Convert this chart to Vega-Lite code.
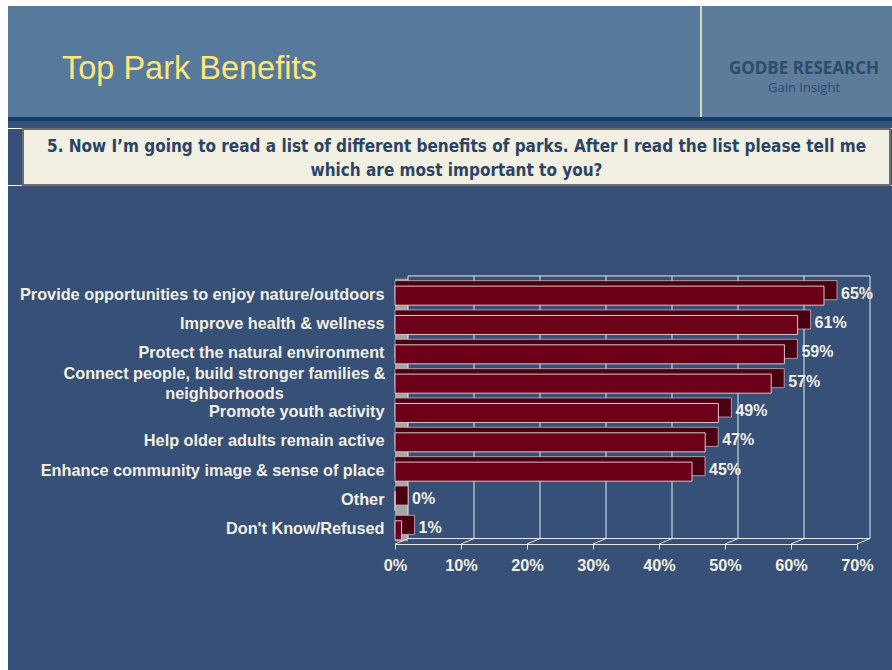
{
  "$schema": "https://vega.github.io/schema/vega-lite/v6.json",
  "background": "#ffffff",
  "padding": {"left": 8, "top": 6, "right": 0, "bottom": 0},
  "spacing": 0,
  "config": {
    "view": {"stroke": null},
    "concat": {"spacing": 0},
    "axis": {"labelFont": "Liberation Sans", "labelFontSize": 16.3, "labelFontWeight": "bold", "labelColor": "#f2efe2", "domainColor": "#e6e6e6", "tickColor": "#e6e6e6", "grid": false}
  },
  "datasets": {
    "benefits": [
      {"benefit": "Provide opportunities to enjoy nature/outdoors", "pct": 65, "label": "65%"},
      {"benefit": "Improve health & wellness", "pct": 61, "label": "61%"},
      {"benefit": "Protect the natural environment", "pct": 59, "label": "59%"},
      {"benefit": "Connect people, build stronger families & neighborhoods", "pct": 57, "label": "57%"},
      {"benefit": "Promote youth activity", "pct": 49, "label": "49%"},
      {"benefit": "Help older adults remain active", "pct": 47, "label": "47%"},
      {"benefit": "Enhance community image & sense of place", "pct": 45, "label": "45%"},
      {"benefit": "Other", "pct": 0, "label": "0%"},
      {"benefit": "Don't Know/Refused", "pct": 1, "label": "1%"}
    ],
    "ticks": [{"t": 0}, {"t": 10}, {"t": 20}, {"t": 30}, {"t": 40}, {"t": 50}, {"t": 60}, {"t": 70}],
    "none": []
  },
  "vconcat": [
    {
      "spacing": 0,
      "hconcat": [
        {
          "width": 692, "height": 111,
          "view": {"fill": "#57799c", "stroke": null},
          "title": {"text": "Top Park Benefits", "anchor": "start", "frame": "group", "orient": "top", "offset": -105, "dx": 54, "baseline": "alphabetic", "font": "Liberation Sans", "fontSize": 32.5, "fontWeight": "normal", "color": "#fde67a"},
          "data": {"name": "none"},
          "mark": "rect"
        },
        {
          "width": 2, "height": 111,
          "view": {"fill": "#dcd8b4", "stroke": null},
          "data": {"name": "none"},
          "mark": "rect"
        },
        {
          "width": 190, "height": 111,
          "view": {"fill": "#5d7b9b", "stroke": null},
          "title": {"text": "GODBE RESEARCH", "subtitle": "Gain Insight", "anchor": "middle", "frame": "group", "orient": "top", "offset": -103, "dx": 7, "baseline": "alphabetic", "font": "Open Sans", "fontSize": 17, "fontWeight": "bold", "color": "#2c4b6c", "subtitleFont": "Open Sans", "subtitleFontSize": 13, "subtitleColor": "#2c4b6c", "subtitlePadding": 1},
          "data": {"name": "none"},
          "mark": "rect"
        }
      ]
    },
    {
      "width": 884, "height": 4,
      "view": {"fill": "#123f66", "stroke": null},
      "data": {"name": "none"},
      "mark": "rect"
    },
    {
      "width": 884, "height": 7,
      "view": {"fill": "#365078", "stroke": null},
      "data": {"name": "none"},
      "mark": "rect"
    },
    {
      "spacing": 0,
      "hconcat": [
        {
          "width": 14, "height": 56,
          "view": {"fill": "#365078", "stroke": null},
          "data": {"name": "none"},
          "mark": "rect"
        },
        {
          "width": 867, "height": 56,
          "view": {"fill": "#f2f0e3", "stroke": "#6e6e6e", "strokeWidth": 2},
          "title": {"text": ["5. Now I’m going to read a list of different benefits of parks. After I read the list please tell me", "which are most important to you?"], "anchor": "middle", "frame": "group", "orient": "top", "offset": -64, "baseline": "alphabetic", "lineHeight": 24, "font": "DejaVu Sans Condensed, Liberation Sans", "fontSize": 17, "fontWeight": "bold", "color": "#2a4468"},
          "data": {"name": "none"},
          "mark": "rect"
        },
        {
          "width": 3, "height": 56,
          "view": {"fill": "#365078", "stroke": null},
          "data": {"name": "none"},
          "mark": "rect"
        }
      ]
    },
    {
      "width": 884, "height": 486,
      "view": {"fill": "#365078", "stroke": null},
      "layer": [
        {
          "data": {"name": "ticks"},
          "transform": [{"filter": "datum.t == 0"}],
          "mark": {"type": "rule", "color": "#a6a6a6", "strokeWidth": 13, "xOffset": 6.5, "yOffset": -17, "y2Offset": 11},
          "encoding": {
            "x": {"field": "t", "type": "quantitative"},
            "y": {"datum": "Provide opportunities to enjoy nature/outdoors", "type": "nominal"},
            "y2": {"datum": "Don't Know/Refused"}
          }
        },
        {
          "data": {"name": "ticks"},
          "mark": {"type": "rule", "color": "#ececec", "strokeWidth": 1, "xOffset": 13, "yOffset": -19.7, "y2Offset": 8.2},
          "encoding": {
            "x": {"field": "t", "type": "quantitative"},
            "y": {"datum": "Provide opportunities to enjoy nature/outdoors", "type": "nominal"},
            "y2": {"datum": "Don't Know/Refused"}
          }
        },
        {
          "data": {"name": "ticks"},
          "transform": [{"filter": "datum.t == 0"}],
          "mark": {"type": "rule", "color": "#ececec", "strokeWidth": 1, "xOffset": 13, "x2Offset": 13, "yOffset": -19.7},
          "encoding": {
            "x": {"field": "t", "type": "quantitative"},
            "x2": {"datum": 70},
            "y": {"datum": "Provide opportunities to enjoy nature/outdoors", "type": "nominal"}
          }
        },
        {
          "data": {"name": "ticks"},
          "transform": [{"filter": "datum.t == 0"}],
          "mark": {"type": "rule", "color": "#ececec", "strokeWidth": 1, "xOffset": 13, "x2Offset": 13, "yOffset": 8.2},
          "encoding": {
            "x": {"field": "t", "type": "quantitative"},
            "x2": {"datum": 70},
            "y": {"datum": "Don't Know/Refused", "type": "nominal"}
          }
        },
        {
          "data": {"name": "ticks"},
          "mark": {"type": "rule", "color": "#ececec", "strokeWidth": 1, "x2Offset": 13, "yOffset": 13.7, "y2Offset": 8.2},
          "encoding": {
            "x": {"field": "t", "type": "quantitative"},
            "x2": {"field": "t"},
            "y": {"datum": "Don't Know/Refused", "type": "nominal"},
            "y2": {"datum": "Don't Know/Refused"}
          }
        },
        {
          "data": {"name": "benefits"},
          "mark": {"type": "bar", "fill": "#4a0010", "stroke": "#cfb3b9", "strokeWidth": 0.8, "xOffset": 13, "x2Offset": 0, "yOffset": -5.5, "y2Offset": -5.5},
          "encoding": {
            "x": {"field": "pct", "type": "quantitative"},
            "x2": {"datum": 0},
            "y": {"field": "benefit", "type": "nominal", "sort": null}
          }
        },
        {
          "data": {"name": "benefits"},
          "mark": {"type": "bar", "fill": "#6d0019", "stroke": "#dcc6cb", "strokeWidth": 1},
          "encoding": {
            "x": {
              "field": "pct", "type": "quantitative",
              "scale": {"domain": [0, 70], "range": [387, 849], "nice": false, "zero": true},
              "axis": {"title": null, "offset": -128, "values": [0, 10, 20, 30, 40, 50, 60, 70], "labelExpr": "datum.value + '%'", "tickSize": 5, "labelPadding": 8, "labelFlush": false, "grid": false}
            },
            "y": {
              "field": "benefit", "type": "nominal", "sort": null,
              "scale": {"domain": ["Provide opportunities to enjoy nature/outdoors", "Improve health & wellness", "Protect the natural environment", "Connect people, build stronger families & neighborhoods", "Promote youth activity", "Help older adults remain active", "Enhance community image & sense of place", "Other", "Don't Know/Refused"], "range": [95, 359], "paddingInner": 0.35, "paddingOuter": 0.175},
              "axis": {
                "title": null, "offset": -387, "domain": false, "ticks": false, "labelLimit": 0, "labelLineHeight": 20,
                "labelExpr": "datum.value == 'Connect people, build stronger families & neighborhoods' ? ['Connect people, build stronger families &', 'neighborhoods'] : datum.value",
                "labelAlign": {"condition": {"test": "datum.value == 'Connect people, build stronger families & neighborhoods'", "value": "center"}, "value": "right"},
                "labelPadding": {"condition": {"test": "datum.value == 'Connect people, build stronger families & neighborhoods'", "value": 171}, "value": 11},
                "labelOffset": {"condition": {"test": "datum.value == 'Connect people, build stronger families & neighborhoods'", "value": -10}, "value": -1}
              }
            }
          }
        },
        {
          "data": {"name": "benefits"},
          "mark": {"type": "text", "align": "left", "baseline": "middle", "dx": 17, "dy": -2, "font": "Liberation Sans", "fontSize": 16, "fontWeight": "bold", "color": "#f2efe2"},
          "encoding": {
            "x": {"field": "pct", "type": "quantitative"},
            "y": {"field": "benefit", "type": "nominal", "sort": null},
            "text": {"field": "label"}
          }
        }
      ]
    }
  ]
}
